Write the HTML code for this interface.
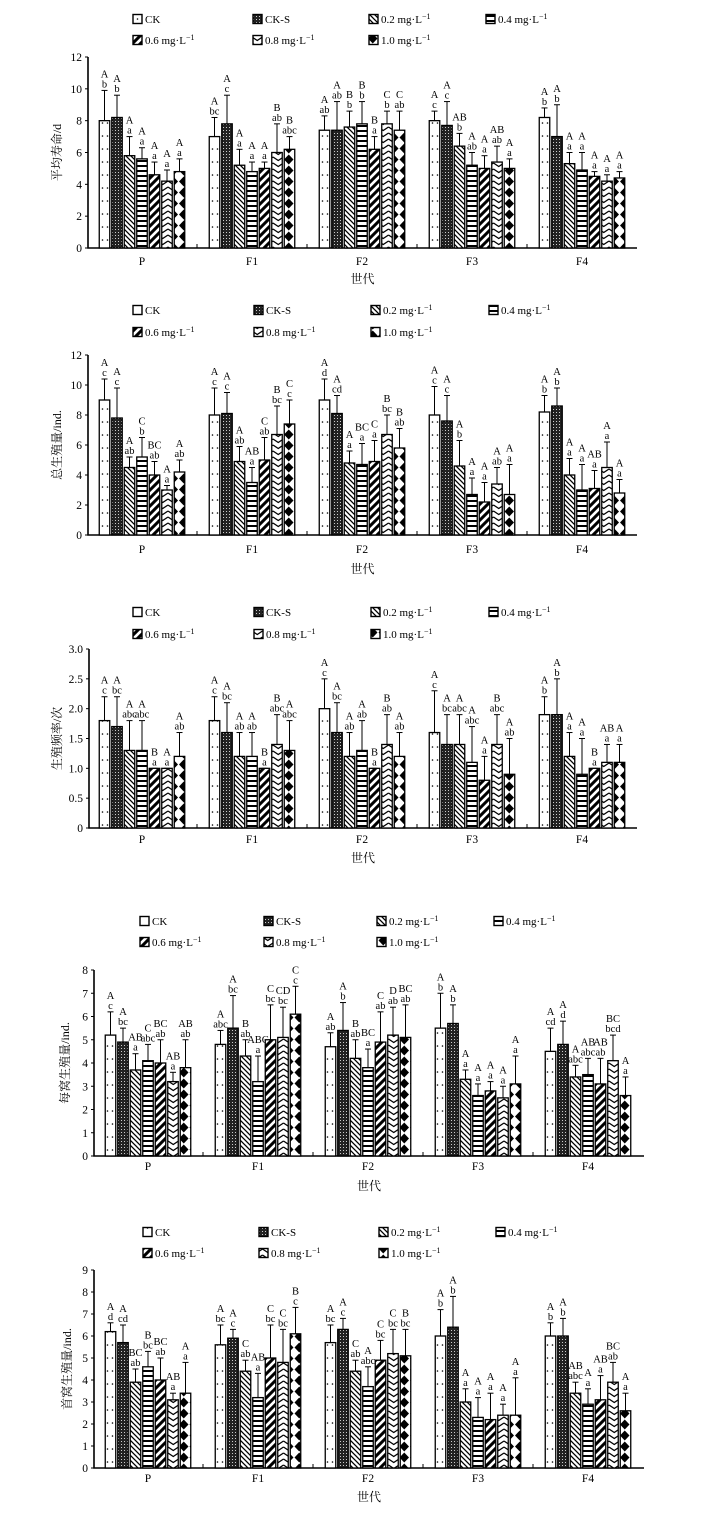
<!DOCTYPE html>
<html><head><meta charset="utf-8">
<style>
html,body{margin:0;padding:0;background:#fff;}
svg{display:block;font-family:"Liberation Serif","Noto Serif CJK SC",serif;}
</style></head>
<body>
<svg id="fig" width="714" height="1524" viewBox="0 0 714 1524" xmlns="http://www.w3.org/2000/svg">
<defs>
<pattern id="p0" patternUnits="userSpaceOnUse" width="5" height="13"><rect width="5" height="13" fill="#fff"/><circle cx="2.5" cy="6" r="0.8" fill="#000"/></pattern>
<pattern id="p1" patternUnits="userSpaceOnUse" width="3" height="3"><rect width="3" height="3" fill="#222"/><rect x="1" y="1" width="1" height="1" fill="#ccc"/></pattern>
<pattern id="p2" patternUnits="userSpaceOnUse" width="5" height="5"><rect width="5" height="5" fill="#fff"/><path d="M-1,-1 L6,6 M-1,4 L1,6 M4,-1 L6,1" stroke="#000" stroke-width="1.3"/></pattern>
<pattern id="p3" patternUnits="userSpaceOnUse" width="5" height="5"><rect width="5" height="5" fill="#fff"/><rect y="0" width="5" height="2" fill="#000"/></pattern>
<pattern id="p4" patternUnits="userSpaceOnUse" width="8" height="8"><rect width="8" height="8" fill="#fff"/><path d="M-2,10 L10,-2 M-2,2 L2,-2 M6,10 L10,6" stroke="#000" stroke-width="3"/></pattern>
<pattern id="p5" patternUnits="userSpaceOnUse" width="10.5" height="6"><rect width="10.5" height="6" fill="#fff"/><path d="M0,1 L5.25,4.5 L10.5,1" fill="none" stroke="#000" stroke-width="1.3"/></pattern>
<pattern id="p6" patternUnits="userSpaceOnUse" width="10.5" height="11"><rect width="10.5" height="11" fill="#fff"/><polygon points="5.25,0.5 10,5.5 5.25,10.5 0.5,5.5" fill="#000"/></pattern>
</defs>
<g id="root"></g>
</svg>
<script>
const groups = ["P","F1","F2","F3","F4"];
const seriesNames = ["CK","CK-S","0.2","0.4","0.6","0.8","1.0"];

const lifeMean = [[8.0,8.2,5.8,5.6,4.6,4.2,4.8],[7.0,7.8,5.2,4.8,5.0,6.0,6.2],[7.4,7.4,7.6,7.8,6.2,7.8,7.4],[8.0,7.7,6.4,5.2,5.0,5.4,5.0],[8.2,7.0,5.3,4.9,4.5,4.2,4.4]];
const lifeErr = [[9.9,9.6,7.0,6.3,5.4,4.9,5.6],[8.2,9.6,6.2,5.4,5.4,7.8,7.0],[8.3,9.2,8.6,9.2,7.0,8.6,8.6],[8.6,9.2,7.2,6.0,5.8,6.4,5.6],[8.8,9.0,6.0,6.0,4.8,4.6,4.8]];
const lifeLab = [["A/b","A/b","A/a","A/a","A/a","A/a","A/a"],["A/bc","A/c","A/a","A/a","A/a","B/ab","B/abc"],["A/ab","A/ab","B/b","B/b","B/a","C/b","C/ab"],["A/c","A/c","AB/b","A/ab","A/a","AB/ab","A/a"],["A/b","A/b","A/a","A/a","A/a","A/a","A/a"]];

const totMean = [[9.0,7.8,4.5,5.2,4.0,3.0,4.2],[8.0,8.1,4.9,3.5,5.0,6.7,7.4],[9.0,8.1,4.8,4.7,4.9,6.7,5.8],[8.0,7.6,4.6,2.7,2.2,3.4,2.7],[8.2,8.6,4.0,3.0,3.1,4.5,2.8]];
const totErr = [[10.4,9.8,5.2,6.5,4.9,3.3,5.0],[9.8,9.5,5.9,4.5,6.5,8.6,9.0],[10.4,9.3,5.6,6.1,6.3,8.0,7.1],[9.9,9.3,6.3,3.8,3.5,4.5,4.7],[9.3,9.8,5.1,4.7,4.3,6.2,3.7]];
const totLab = [["A/c","A/c","A/ab","C/b","BC/ab","A/a","A/ab"],["A/c","A/c","A/ab","AB/a","C/ab","B/bc","C/c"],["A/d","A/cd","A/a","BC/a","C/a","B/bc","B/ab"],["A/c","A/c","A/b","A/a","A/a","A/ab","A/a"],["A/b","A/b","A/a","A/a","AB/a","A/a","A/a"]];

const freqMean = [[1.8,1.7,1.3,1.3,1.0,1.0,1.2],[1.8,1.6,1.2,1.2,1.0,1.4,1.3],[2.0,1.6,1.2,1.3,1.0,1.4,1.2],[1.6,1.4,1.4,1.1,0.8,1.4,0.9],[1.9,1.9,1.2,0.9,1.0,1.1,1.1]];
const freqErr = [[2.2,2.2,1.8,1.8,1.0,1.0,1.6],[2.2,2.1,1.6,1.6,1.0,1.9,1.8],[2.5,2.1,1.6,1.8,1.0,1.9,1.6],[2.3,1.9,1.9,1.7,1.2,1.9,1.5],[2.2,2.5,1.6,1.5,1.0,1.4,1.4]];
const freqLab = [["A/c","A/bc","A/abc","A/abc","B/a","A/a","A/ab"],["A/c","A/bc","A/ab","A/ab","B/a","B/abc","A/abc"],["A/c","A/bc","A/ab","A/ab","B/a","B/ab","A/ab"],["A/c","A/bc","A/abc","A/abc","A/a","B/abc","A/ab"],["A/b","A/b","A/a","A/a","B/a","AB/a","A/a"]];

const litMean = [[5.2,4.9,3.7,4.1,4.0,3.2,3.8],[4.8,5.5,4.3,3.2,5.0,5.1,6.1],[4.7,5.4,4.2,3.8,4.9,5.2,5.1],[5.5,5.7,3.3,2.6,2.8,2.5,3.1],[4.5,4.8,3.4,3.5,3.1,4.1,2.6]];
const litErr = [[6.2,5.5,4.4,4.8,5.0,3.6,5.0],[5.4,6.9,5.0,4.3,6.5,6.4,7.3],[5.3,6.6,5.0,4.6,6.2,6.4,6.5],[7.0,6.5,3.7,3.1,3.2,3.0,4.3],[5.5,5.8,3.9,4.2,4.2,5.2,3.4]];
const litLab = [["A/c","A/bc","AB/a","C/abc","BC/ab","AB/a","AB/ab"],["A/abc","A/bc","B/ab","ABC/a","C/bc","CD/bc","C/c"],["A/ab","A/b","B/ab","BC/a","C/ab","D/ab","BC/ab"],["A/b","A/b","A/a","A/a","A/a","A/a","A/a"],["A/cd","A/d","A/abc","AB/abc","AB/ab","BC/bcd","A/a"]];

const firstMean = [[6.2,5.7,3.9,4.6,4.0,3.1,3.4],[5.6,5.9,4.4,3.2,5.0,4.8,6.1],[5.7,6.3,4.4,3.7,4.9,5.2,5.1],[6.0,6.4,3.0,2.3,2.2,2.4,2.4],[6.0,6.0,3.4,2.9,3.1,3.9,2.6]];
const firstErr = [[6.6,6.5,4.5,5.3,5.0,3.4,4.8],[6.5,6.3,4.9,4.3,6.5,6.3,7.3],[6.5,6.8,4.9,4.6,5.8,6.3,6.3],[7.2,7.8,3.6,3.2,3.4,2.9,4.1],[6.6,6.8,3.9,3.6,4.2,4.8,3.4]];
const firstLab = [["A/d","A/cd","BC/ab","B/bc","BC/ab","AB/a","A/a"],["A/bc","A/c","C/ab","AB/a","C/bc","C/bc","B/c"],["A/bc","A/c","C/ab","A/abc","C/bc","C/bc","B/bc"],["A/b","A/b","A/a","A/a","A/a","A/a","A/a"],["A/b","A/b","AB/abc","A/a","AB/a","BC/ab","A/a"]];

const lifeTicks = ["0","2","4","6","8","10","12"];
const totTicks = ["0","2","4","6","8","10","12"];
const freqTicks = ["0","0.5","1.0","1.5","2.0","2.5","3.0"];
const litTicks = ["0","1","2","3","4","5","6","7","8"];
const firstTicks = ["0","1","2","3","4","5","6","7","8","9"];

const NS = "http://www.w3.org/2000/svg";
const root = document.getElementById("root");
function mk(tag, attrs, parent){const e=document.createElementNS(NS,tag);for(const k in attrs)e.setAttribute(k,attrs[k]);(parent||root).appendChild(e);return e;}

const panels = [
 {key:"lifespan",mean:lifeMean,err:lifeErr,lab:lifeLab,ticks:lifeTicks,max:12,ylabel:"平均寿命/d",x0:88,x1:637,yb:248,yt:57,c0:142,gs:110,leg:[19,40],lx:[137,257,373,490],tl:265,xl:283,yl:58},
 {key:"total",mean:totMean,err:totErr,lab:totLab,ticks:totTicks,max:12,ylabel:"总生殖量/ind.",x0:88,x1:637,yb:535,yt:355,c0:142,gs:110,leg:[310,332],lx:[137,258,375,493],tl:553,xl:573,yl:58},
 {key:"frequency",mean:freqMean,err:freqErr,lab:freqLab,ticks:freqTicks,max:3,ylabel:"生殖频率/次",x0:89,x1:637,yb:828,yt:649,c0:142,gs:110,leg:[612,634],lx:[137,258,375,493],tl:843,xl:862,yl:58},
 {key:"per-litter",mean:litMean,err:litErr,lab:litLab,ticks:litTicks,max:8,ylabel:"每窝生殖量/ind.",x0:94,x1:644,yb:1156,yt:970,c0:148,gs:110,leg:[921,942],lx:[144,268,381,498],tl:1170,xl:1190,yl:66},
 {key:"first-litter",mean:firstMean,err:firstErr,lab:firstLab,ticks:firstTicks,max:9,ylabel:"首窝生殖量/ind.",x0:94,x1:644,yb:1468,yt:1270,c0:148,gs:110,leg:[1232,1253],lx:[147,263,383,500],tl:1482,xl:1501,yl:68}
];
const legendText = ["CK","CK-S","0.2 mg·L","0.4 mg·L","0.6 mg·L","0.8 mg·L","1.0 mg·L"];
const BW=10.5, PITCH=12.5;

panels.forEach(p=>{
  const g = mk("g",{});
  
  
  const ys = v => p.yb - v/p.max*(p.yb-p.yt);
  const xs = (gi,si) => p.c0 + gi*p.gs - 3*PITCH - BW/2 + si*PITCH;
  // legend
  for(let s=0;s<7;s++){
    const row = s<4?0:1, col = s<4?s:s-4;
    const lg = mk("g",{},g);
    
    
    const lx=p.lx[col], ly=p.leg[row];
    mk("rect",{x:lx-4,y:ly-4.5,width:9,height:9,fill:"url(#p"+s+")",stroke:"#000","stroke-width":1.4},lg);
    const t = mk("text",{x:lx+8,y:ly+4,"font-size":11},lg);
    t.textContent = legendText[s];
    if(s>=2){const sup=mk("tspan",{dy:-4,"font-size":8},t);sup.textContent="−1";}
  }
  // axes
  const ax = mk("path",{d:`M${p.x0},${p.yt} L${p.x0},${p.yb} L${p.x1},${p.yb}`,fill:"none",stroke:"#000","stroke-width":1.6},g);
  
  
  p.ticks.forEach((t,i)=>{
    const v = parseFloat(t), y = ys(v);
    mk("line",{x1:p.x0-3,x2:p.x0,y1:y,y2:y,stroke:"#000","stroke-width":1},g);
    const tx = mk("text",{x:p.x0-6,y:y+4,"font-size":11.5,"text-anchor":"end"},g);
    
    
    tx.textContent=t;
  });
  for(let b=1;b<5;b++){const x=p.c0+(b-0.5)*p.gs;mk("line",{x1:x,x2:x,y1:p.yb,y2:p.yb-4,stroke:"#000","stroke-width":1},g);}
  groups.forEach((gn,gi)=>{
    const tx = mk("text",{x:p.c0+gi*p.gs,y:p.tl,"font-size":11.5,"text-anchor":"middle"},g);
    
    
    tx.textContent=gn;
    for(let s=0;s<7;s++){
      const x=xs(gi,s), top=ys(p.mean[gi][s]), et=ys(p.err[gi][s]), cx=x+BW/2;
      const el=mk("line",{x1:cx,x2:cx,y1:top,y2:et,stroke:"#000","stroke-width":1},g);
      mk("line",{x1:cx-3,x2:cx+3,y1:et,y2:et,stroke:"#000","stroke-width":1},g);
      const bar=mk("rect",{x:x,y:top,width:BW,height:p.yb-top,fill:"url(#p"+s+")",stroke:"#000","stroke-width":1.3},g);
      
      
      const parts=p.lab[gi][s].split("/");
      const t1=mk("text",{x:cx,y:et-13,"font-size":10.5,"text-anchor":"middle"},g);
      
      
      t1.textContent=parts[0];
      const t2=mk("text",{x:cx,y:et-3,"font-size":10.5,"text-anchor":"middle"},g);
      
      
      t2.textContent=parts[1];
    }
  });
  const xt=mk("text",{x:(p.x0+p.x1)/2,y:p.xl,"font-size":12,"text-anchor":"middle"},g);
  
  
  xt.textContent="世代";
  const ym=(p.yb+p.yt)/2;
  const yt=mk("text",{x:p.yl,y:ym,"font-size":12,"text-anchor":"middle",transform:`rotate(-90 ${p.yl} ${ym})`,"dominant-baseline":"middle"},g);
  
  
  yt.textContent=p.ylabel;
});
</script>
</body></html>
